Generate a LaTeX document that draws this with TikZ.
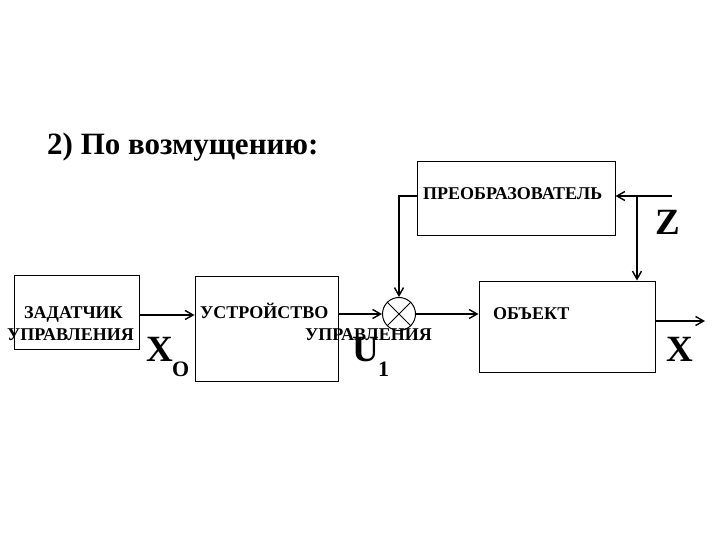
\documentclass[tikz,border=0pt]{standalone}
\usepackage{fontspec}
\setmainfont{Liberation Serif}
\usetikzlibrary{arrows.meta}
\begin{document}
\begin{tikzpicture}[x=1pt,y=-1pt,
  blk/.style={draw,line width=1pt,inner sep=0pt},
  con/.style={line width=1.6pt,-{Straight Barb[length=8pt,width=9pt,line width=1.4pt]}},
  lbl/.style={font=\bfseries\fontsize{18}{20}\selectfont,inner sep=0pt,anchor=base west},
  big/.style={font=\bfseries\fontsize{37}{40}\selectfont,inner sep=0pt,anchor=base west},
  sub/.style={font=\bfseries\fontsize{22}{24}\selectfont,inner sep=0pt,anchor=base west}]
\useasboundingbox (0,0) rectangle (720,540);
\node[font=\bfseries\fontsize{31}{34}\selectfont,anchor=base west,inner sep=0pt] (title) at (47,155) {2) По возмущению:};
\node[blk,minimum width=125pt,minimum height=74pt] (zad) at (76.5,312) {};
\node[blk,minimum width=143pt,minimum height=105pt] (ust) at (266.5,328.5) {};
\node[blk,minimum width=198pt,minimum height=73pt] (pre) at (516,198.5) {};
\node[blk,minimum width=176pt,minimum height=91pt] (obj) at (567,326.5) {};
\node[draw,circle,line width=1pt,minimum size=33pt,inner sep=0pt] (sum) at (399,314) {};
\draw[line width=1pt] (sum.north west) -- (sum.south east) (sum.north east) -- (sum.south west);
\node[lbl] (t1) at (24,318) {ЗАДАТЧИК};
\node[lbl] (t2) at (7,340) {УПРАВЛЕНИЯ};
\node[lbl] (t3) at (200,318) {УСТРОЙСТВО};
\node[lbl] (t4) at (305,340) {УПРАВЛЕНИЯ};
\node[lbl] (t5) at (423,200) {ПРЕОБРАЗОВАТЕЛЬ};
\node[lbl] (t6) at (493,319) {ОБЪЕКТ};
\node[big] (x0) at (146,361) {X};
\node[sub] (o) at (172,376) {O};
\node[big] (u1) at (352,361) {U};
\node[sub] (one) at (378,376) {1};
\node[big] (z) at (655,234) {Z};
\node[big] (x) at (666,361) {X};
\coordinate (zin) at (672,196);
\coordinate (br) at (637,196);
\coordinate (xout) at (705,321);
\draw[con] (zad.east |- 0,315) -- (ust.west |- 0,315);
\draw[con] (ust.east |- sum) -- (sum.west);
\draw[con] (sum.east) -- (obj.west |- sum);
\draw[con] (zin) -- (pre.east |- zin);
\draw[con] (br) -- (obj.north -| br);
\draw[con] (pre.west |- 0,196) -| (sum.north);
\draw[con] (obj.east |- xout) -- (xout);
\end{tikzpicture}
\end{document}
